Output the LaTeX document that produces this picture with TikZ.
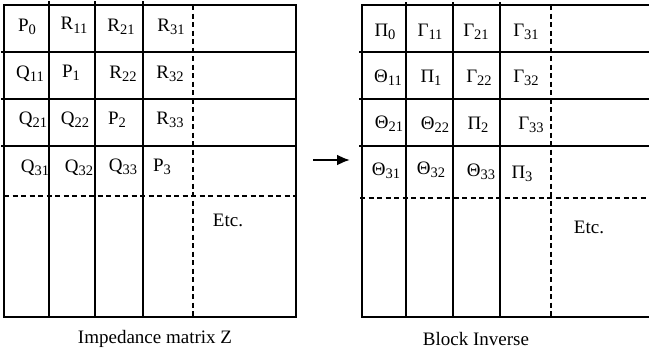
\documentclass[tikz,border=0pt]{standalone}
\usepackage{fontspec}
\usetikzlibrary{arrows.meta}
\setmainfont{Liberation Serif}
\newcommand\subidx[1]{\raisebox{-3pt}{\fontsize{14.5}{15}\selectfont#1}}
\begin{document}
\begin{tikzpicture}[>={Latex[length=13pt,width=11pt]}, x=1pt, y=-1pt,
    rule/.style={line width=1.1pt},
    dashrule/.style={line width=1.1pt, dash pattern=on 5pt off 3.5pt},
    cell/.style={anchor=base, inner sep=0pt, font=\fontsize{19}{22}\selectfont}]
    \useasboundingbox (0,0) rectangle (649,356);
    % impedance matrix
    \draw[rule](4,5)rectangle(296,317);
    \foreach \y in {52,99,146} \draw[rule](1,\y)--(296,\y);
    \foreach \x in {49,95,143} \draw[rule](\x,1)--(\x,317);
    \draw[dashrule](4,196)--(296,196);
    \draw[dashrule](193,5)--(193,318);
    \foreach \lab/\x/\y [count=\i] in {P\subidx{0}/27/31, R\subidx{11}/74/30, R\subidx{21}/121/31, R\subidx{31}/171/31,
        Q\subidx{11}/30/78, P\subidx{1}/71/77, R\subidx{22}/123/78, R\subidx{32}/170/78,
        Q\subidx{21}/33/124, Q\subidx{22}/75/124, P\subidx{2}/117/124, R\subidx{33}/170/124,
        Q\subidx{31}/35/172, Q\subidx{32}/79/172, Q\subidx{33}/123/171, P\subidx{3}/162/171}
        \node[cell](z\i) at (\x,\y){\lab};
    \node[cell](zetc) at (228,226){Etc.};
    \node[cell](zcap) at (155,343){Impedance matrix Z};
    % arrow
    \coordinate (a1) at (313,160);
    \coordinate (a2) at (350,160);
    \draw[line width=2.2pt,->](a1)--(a2);
    % block inverse
    \draw[rule](649,5)--(362,5)--(362,317)--(649,317);
    \foreach \y in {52,99,146} \draw[rule](359,\y)--(649,\y);
    \foreach \x in {406,453,500} \draw[rule](\x,2)--(\x,317);
    \draw[dashrule](360,198)--(649,198);
    \draw[dashrule](551,5)--(551,319);
    \foreach \lab/\x/\y [count=\i] in {Π\subidx{0}/385/36, Γ\subidx{11}/430/36, Γ\subidx{21}/476/36, Γ\subidx{31}/526/36,
        Θ\subidx{11}/388/82, Π\subidx{1}/431/82, Γ\subidx{22}/479/82, Γ\subidx{32}/526/82,
        Θ\subidx{21}/389/128, Θ\subidx{22}/435/129, Π\subidx{2}/478/129, Γ\subidx{33}/531/129,
        Θ\subidx{31}/386/175, Θ\subidx{32}/431/174, Θ\subidx{33}/481/176, Π\subidx{3}/522/178}
        \node[cell](b\i) at (\x,\y){\lab};
    \node[cell](betc) at (589,233){Etc.};
    \node[cell](bcap) at (476,345){Block Inverse};
\end{tikzpicture}
\end{document}
